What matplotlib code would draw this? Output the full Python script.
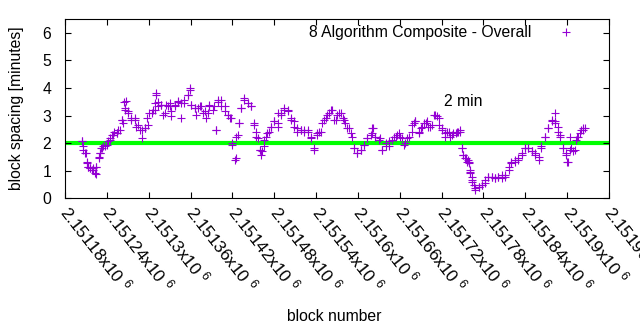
import matplotlib
matplotlib.use("Agg")
import matplotlib.pyplot as plt
from matplotlib.ticker import FuncFormatter, MultipleLocator
import numpy as np

plt.rcParams["font.family"] = ["Liberation Sans", "DejaVu Sans"]
plt.rcParams["mathtext.default"] = "regular"

BASE_BLOCK = 2151180

# block offsets from BASE_BLOCK and the block spacing (minutes)
block_offset = [
    24, 26, 29, 31, 33, 36, 38, 40, 44, 45, 48, 50, 52, 55, 60, 64, 69, 74, 79, 81,
    84, 86, 90, 95, 100, 105, 110, 114, 119, 124, 129, 131, 133, 138, 143, 148, 152,
    157, 162, 167, 171, 176, 179, 181, 186, 190, 195, 200, 205, 207, 214, 216, 219,
    224, 229, 233, 238, 240, 244, 245, 250, 252, 257, 262, 267, 271, 274, 279, 283,
    286, 290, 295, 300, 305, 310, 314, 319, 324, 329, 333, 338, 343, 348, 352, 357,
    362, 364, 369, 374, 379, 383, 388, 393, 398, 402, 407, 412, 414, 419, 424, 429,
    433, 440, 442, 445, 450, 455, 460, 464, 469, 474, 479, 483, 488, 493, 498, 502,
    507, 512, 517, 521, 526, 531, 536, 540, 545, 550, 555, 560, 564, 567, 569, 571,
    574, 576, 579, 581, 583, 586, 588, 593, 598, 602, 607, 612, 617, 621, 626, 631,
    636, 640, 645, 650, 655, 660, 664, 669, 674, 679, 683, 688, 693, 698, 702, 703,
    707, 710, 714, 719, 720, 724, 729, 733, 734, 738, 743, 745,
    # second reading pass
    24, 26, 30, 31, 33, 36, 40, 43, 45, 48, 50, 53, 57, 61, 64, 67, 70, 74, 76, 81,
    83, 86, 88, 90, 95, 100, 102, 107, 110, 114, 117, 121, 126, 129, 131, 133, 138,
    140, 145, 150, 152, 150, 157, 162, 167, 171, 176, 179, 181, 186, 188, 193, 198,
    202, 207, 212, 217, 219, 224, 229, 233, 236, 240, 245, 248, 250, 252, 257, 262,
    267, 271, 274, 276, 279, 281, 286, 288, 293, 295, 300, 305, 305, 310, 314, 319,
    324, 329, 333, 338, 343, 348, 352, 357, 362, 367, 371, 376, 381, 386, 390, 395,
    400, 405, 410, 414, 419, 424, 429, 433, 438, 440, 445, 452, 455, 460, 464, 471,
    476, 481, 486, 490, 498, 500, 502, 507, 510, 514, 519, 524, 529, 533, 536, 540,
    545, 548, 552, 557, 562, 567, 569, 571, 575, 578, 581, 583, 579, 581, 583, 588,
    593, 598, 602, 607, 612, 617, 621, 626, 631, 636, 640, 645, 650, 655, 660, 664,
    669, 674, 679, 683, 688, 693, 698, 702, 707, 710, 714, 719, 721, 724, 726, 731,
    736, 740, 743,
]
spacing = [
    2.06, 1.88, 1.65, 1.28, 1.15, 1.10, 1.03, 1.10, 0.90, 1.15, 1.50, 1.63, 1.82, 1.88,
    1.94, 2.12, 2.30, 2.36, 2.48, 2.85, 3.50, 3.27, 3.10, 2.90, 2.85, 2.65, 2.48, 2.55,
    2.65, 3.09, 3.20, 3.76, 3.50, 3.40, 3.10, 3.33, 3.15, 3.40, 3.50, 3.45, 3.57, 3.76,
    3.94, 3.40, 3.27, 3.27, 3.33, 3.15, 3.09, 3.33, 3.33, 2.48, 3.50, 3.57, 3.33, 3.03,
    2.90, 2.00, 1.39, 2.24, 2.73, 3.27, 3.57, 3.45, 3.33, 2.65, 2.24, 1.75, 1.70, 2.12,
    2.36, 2.60, 2.79, 2.73, 3.03, 3.20, 3.20, 2.90, 2.79, 2.55, 2.48, 2.42, 2.48, 2.24,
    1.82, 2.36, 2.42, 2.73, 2.90, 3.09, 3.20, 2.85, 3.09, 2.90, 2.73, 2.55, 2.24, 1.82,
    1.63, 1.75, 1.94, 2.18, 2.36, 2.55, 2.24, 2.12, 1.75, 2.00, 2.06, 2.12, 2.24, 2.36,
    2.18, 2.00, 2.24, 2.67, 2.79, 2.36, 2.60, 2.73, 2.60, 2.67, 3.03, 2.90, 2.55, 2.36,
    2.42, 2.30, 2.36, 2.42, 2.48, 1.82, 1.58, 1.45, 1.33, 1.27, 0.97, 0.67, 0.48, 0.30,
    0.42, 0.48, 0.55, 0.79, 0.79, 0.73, 0.79, 0.73, 0.79, 1.03, 1.27, 1.33, 1.39, 1.58,
    1.82, 1.82, 1.70, 1.63, 1.51, 1.88, 2.24, 2.55, 2.85, 2.79, 3.09, 2.60, 2.30, 1.82,
    1.58, 1.33, 1.75, 1.70, 2.12, 2.24, 2.36, 2.48, 2.55,
    # second reading pass
    2.08, 1.76, 1.64, 1.33, 1.15, 1.09, 1.03, 0.91, 1.15, 1.45, 1.64, 1.82, 1.88, 2.06,
    2.18, 2.30, 2.42, 2.36, 2.48, 2.85, 2.73, 3.21, 3.51, 3.15, 2.85, 2.91, 2.60, 2.48,
    2.18, 2.55, 2.91, 3.09, 3.21, 3.45, 3.82, 3.33, 3.39, 3.03, 3.39, 3.33, 2.97, 3.45,
    3.33, 3.51, 2.91, 3.45, 3.76, 4.00, 3.39, 3.27, 3.03, 3.33, 3.09, 2.91, 3.39, 3.21,
    2.48, 3.57, 3.33, 3.15, 3.03, 2.91, 1.94, 1.45, 2.30, 2.73, 3.27, 3.64, 3.45, 3.33,
    2.73, 2.42, 2.18, 1.76, 1.58, 1.88, 2.24, 2.42, 2.60, 2.79, 3.09, 2.60, 3.09, 3.27,
    3.15, 2.85, 2.60, 2.42, 2.48, 2.48, 2.42, 2.18, 1.76, 2.30, 2.42, 2.85, 3.03, 3.21,
    2.85, 3.03, 3.09, 2.85, 2.55, 2.36, 1.82, 1.64, 1.76, 1.94, 2.18, 2.30, 2.55, 2.24,
    2.18, 1.76, 1.88, 1.88, 2.24, 2.30, 2.24, 1.94, 2.18, 2.42, 2.73, 2.79, 2.42, 2.55,
    2.73, 2.79, 2.60, 3.03, 2.97, 2.67, 2.48, 2.24, 2.42, 2.24, 2.36, 2.42, 2.42, 1.82,
    1.58, 1.45, 1.39, 1.03, 0.79, 1.33, 0.91, 0.60, 0.36, 0.42, 0.48, 0.67, 0.79, 0.79,
    0.73, 0.79, 0.85, 0.85, 1.15, 1.33, 1.39, 1.45, 1.64, 1.82, 1.82, 1.70, 1.58, 1.39,
    1.82, 2.24, 2.55, 2.79, 2.73, 2.42, 2.24, 1.82, 1.64, 1.33, 2.24, 1.82, 1.76, 2.24,
    2.48, 2.55,
]
target_minutes = 2.0
x_range = (2151180, 2151960)

blocks = BASE_BLOCK + np.array(block_offset)


def sci_label(v, pos):
    return f"{v / 1e6:.6g}x10 $^{{6}}$"


fig = plt.figure(figsize=(6.4, 3.3), dpi=100)
ax = fig.add_axes([0.1016, 0.399, 0.85, 0.5434])

ax.axhline(target_minutes, color="#00ff00", lw=3.0, zorder=1)
ax.plot(blocks, spacing, "+", color="#9400d3", ms=5.5, mew=0.8,
        label="8 Algorithm Composite - Overall", zorder=2)
ax.text(2151751, 3.5, "2 min", fontsize=11.3, ha="center", va="center")

ax.set_xlim(*x_range)
ax.set_ylim(0, 6.5)
ax.xaxis.set_major_locator(MultipleLocator(60))
ax.xaxis.set_major_formatter(FuncFormatter(sci_label))
ax.yaxis.set_major_locator(MultipleLocator(1))
ax.tick_params(direction="in", length=4, width=0.8, right=True, top=True,
               labelsize=11.3)
ax.tick_params(axis="y", pad=10)
ax.tick_params(axis="x", pad=7, labelsize=12.3)
for lbl in ax.get_xticklabels():
    lbl.set_rotation(-52)
    lbl.set_ha("left")
    lbl.set_va("center")
    lbl.set_rotation_mode("anchor")

ax.set_ylabel("block spacing [minutes]", fontsize=11.3)
ax.yaxis.set_label_coords(-0.075, 0.5)
ax.set_xlabel("block number", fontsize=11.3)
ax.xaxis.set_label_coords(0.494, -0.617)

ax.legend(loc="upper right", bbox_to_anchor=(0.962, 1.0), borderaxespad=0,
          frameon=False, markerfirst=False, fontsize=11.3,
          handlelength=2.0, handletextpad=1.2)

fig.savefig("out.png", dpi=100)
plt.close(fig)
